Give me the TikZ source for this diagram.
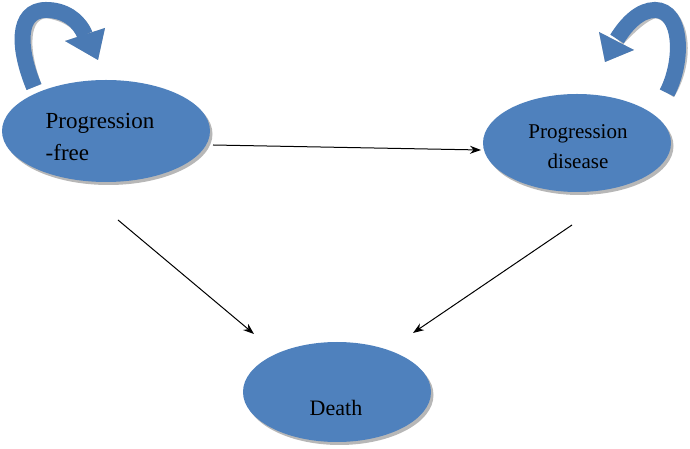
\documentclass[tikz,border=0pt]{standalone}
\usepackage{fontspec}
\setmainfont{Liberation Serif}
\usetikzlibrary{arrows.meta,shadows,shapes.geometric}
\definecolor{stateblue}{HTML}{4F81BD}
\definecolor{loopblue}{HTML}{4A7AB4}
\definecolor{shadowgray}{HTML}{A5A5A5}
\tikzset{
  state/.style={ellipse,fill=stateblue,draw=none,inner sep=0pt,
    drop shadow={shadow xshift=2.5pt,shadow yshift=-3pt,fill=shadowgray,opacity=0.8}},
  lbl/.style={inner sep=0pt,text=black},
  trans/.style={draw=black,line width=1pt,-{Stealth[length=11pt,width=8pt]}},
  loopband/.style={draw=loopblue,line width=16pt,line cap=butt},
  loopshadow/.style={draw=shadowgray,line width=16pt,line cap=butt,opacity=0.7},
}
\begin{document}
\begin{tikzpicture}[x=1pt,y=1pt]
\useasboundingbox (0,0) rectangle (690,449);
% states
\node[state,minimum width=208pt,minimum height=102pt] (pf) at (106,318) {};
\node[state,minimum width=188pt,minimum height=98pt] (pd) at (577,306) {};
\node[state,minimum width=188pt,minimum height=100pt] (d) at (337,57) {};
% labels
\node[lbl,align=left,font=\fontsize{23}{32}\selectfont] (pft) at (100,312) {Progression\\-free};
\node[lbl,align=center,font=\fontsize{21}{30}\selectfont] (pdt) at (578,302) {Progression\\disease};
\node[lbl,anchor=base,font=\fontsize{22}{26}\selectfont] (dt) at (336,33) {Death};
% connector end points
\coordinate (h1) at (213,304);
\coordinate (h2) at (481,299);
\coordinate (a1) at (118,229);
\coordinate (a2) at (254,115);
\coordinate (b1) at (572,224);
\coordinate (b2) at (413,116);
\draw[trans] (h1) -- (h2);
\draw[trans] (a1) -- (a2);
\draw[trans] (b1) -- (b2);
% left self loop
\coordinate (l0) at (34,362);
\coordinate (l1) at (46,439);
\coordinate (l2) at (85,414);
\coordinate (lt1) at (65,408);
\coordinate (lt2) at (105,421);
\coordinate (lt3) at (98,389);
\begin{scope}[shift={(2.5,-3)}]
\draw[loopshadow] (l0) .. controls (18,400) and (16,439) .. (l1) .. controls (64,439) and (78,430) .. (l2);
\fill[shadowgray,opacity=0.7] (lt1) -- (lt2) -- (lt3) -- cycle;
\end{scope}
\draw[loopband] (l0) .. controls (18,400) and (16,439) .. (l1) .. controls (64,439) and (78,430) .. (l2);
\fill[loopblue] (lt1) -- (lt2) -- (lt3) -- cycle;
% right self loop
\coordinate (r0) at (667,356);
\coordinate (r1) at (655,439);
\coordinate (r2) at (617,410);
\coordinate (rt1) at (599,417);
\coordinate (rt2) at (634,399);
\coordinate (rt3) at (605,387);
\begin{scope}[shift={(2.5,-3)}]
\draw[loopshadow] (r0) .. controls (684,389) and (682,439) .. (r1) .. controls (640,439) and (627,426) .. (r2);
\fill[shadowgray,opacity=0.7] (rt1) -- (rt2) -- (rt3) -- cycle;
\end{scope}
\draw[loopband] (r0) .. controls (684,389) and (682,439) .. (r1) .. controls (640,439) and (627,426) .. (r2);
\fill[loopblue] (rt1) -- (rt2) -- (rt3) -- cycle;
\end{tikzpicture}
\end{document}
